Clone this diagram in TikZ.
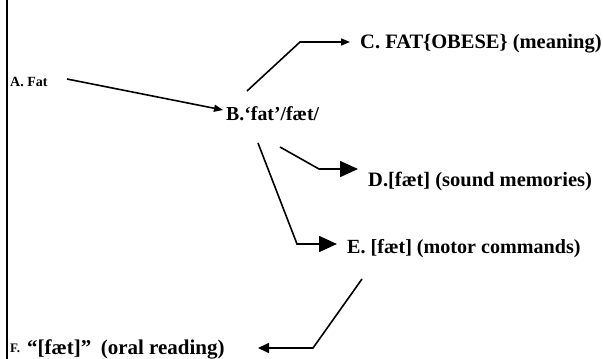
\documentclass[tikz,border=0pt]{standalone}
\usepackage{fontspec}
\setmainfont{Liberation Serif}
\usetikzlibrary{arrows.meta,calc}
\begin{document}
\begin{tikzpicture}[x=1pt,y=-1pt,
  lbl/.style={inner sep=0pt,anchor=base west,font=\fontsize{20.5}{24}\selectfont\bfseries},
  smalllbl/.style={inner sep=0pt,anchor=base west,font=\fontsize{14}{16}\selectfont\bfseries},
  conn/.style={line width=1.6pt,line join=miter},
  thinhead/.style={conn,-{Triangle[length=9pt,width=7pt]}},
  bighead/.style={conn,-{Triangle[length=18pt,width=16pt]}},
  midhead/.style={conn,-{Triangle[length=11pt,width=10pt]}}]
\useasboundingbox (0,0) rectangle (603,359);
% left margin rule
\coordinate (rtop) at (7,0);
\coordinate (rbot) at (7,359);
\draw[line width=1.5pt] (rtop) -- (rbot);

% labels
\node[smalllbl] (A) at (10,86) {A. Fat};
\node[lbl,font=\fontsize{19.8}{24}\selectfont\bfseries] (B) at (226,120) {B.‘fat’/fæt/};
\node[lbl] (C) at (360,48) {C. FAT\{OBESE\} (meaning)};
\node[lbl] (D) at (368,186) {D.[fæt] (sound memories)};
\node[lbl,font=\fontsize{20.1}{24}\selectfont\bfseries] (E) at (347,253) {E. [fæt] (motor commands)};
\node[smalllbl,font=\fontsize{13}{14}\selectfont\bfseries] (Fk) at (10,352) {F.};
\node[lbl,font=\fontsize{21}{24}\selectfont\bfseries] (F) at (27,354) {“[fæt]”\hspace{0.2em} (oral reading)};

% free ends of the connectors
\coordinate (ab) at ($(A.base west)+(57,-7)$);
\coordinate (bc) at ($(B.base west)+(21,-29)$);
\coordinate (bcturn) at ($(C.base west)+(-60,-6)$);
\coordinate (bd) at ($(B.base west)+(54,27)$);
\coordinate (bdturn) at ($(D.base west)+(-49,-17)$);
\coordinate (be) at ($(B.base west)+(32,23)$);
\coordinate (beturn) at ($(E.base west)+(-50,-9)$);
\coordinate (ef) at ($(E.base west)+(15,26)$);
\coordinate (efturn) at ($(E.base west)+(-34,95)$);

\draw[thinhead] (ab) -- ($(B.base west)+(-3,-10)$);
\draw[thinhead] (bc) -- (bcturn) -- ($(C.base west)+(-10,-6)$);
\draw[bighead] (bd) -- (bdturn) -- ($(D.base west)+(-10,-17)$);
\draw[bighead] (be) -- (beturn) -- ($(E.base west)+(-10,-9)$);
\draw[midhead] (ef) -- (efturn) -- ($(F.base west)+(231,-6)$);
\end{tikzpicture}
\end{document}
